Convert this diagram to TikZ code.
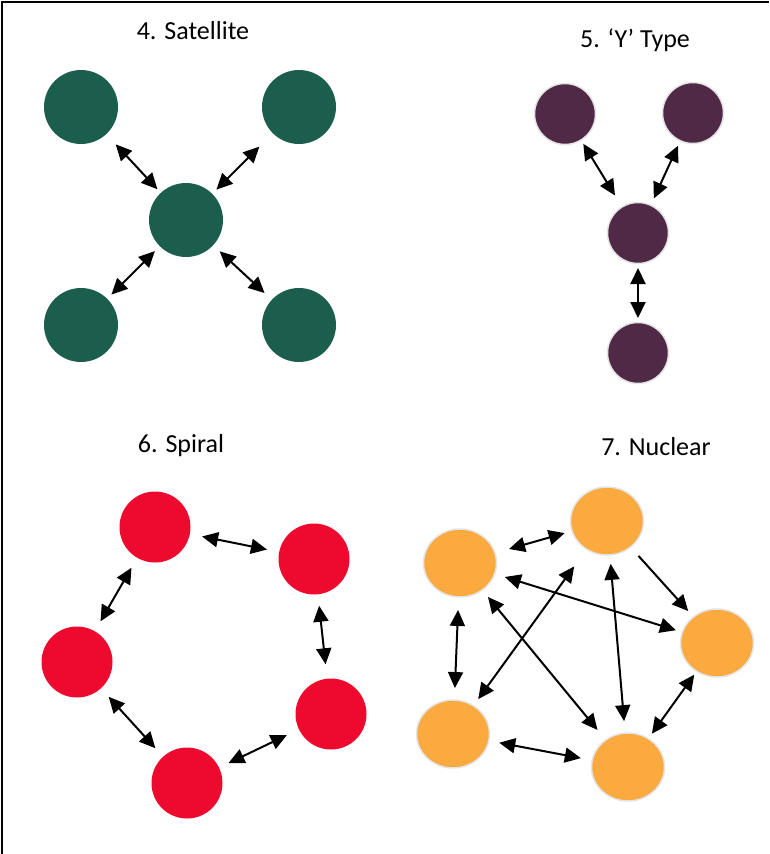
\documentclass[tikz,border=0pt]{standalone}
\usepackage{fontspec}
\setmainfont{Carlito}
\usetikzlibrary{arrows.meta,shapes.geometric}
\definecolor{satgreen}{RGB}{28,94,77}
\definecolor{ypurple}{RGB}{80,41,70}
\definecolor{spred}{RGB}{238,10,46}
\definecolor{nucorange}{RGB}{251,170,64}
\definecolor{rimgray}{RGB}{228,228,228}
\begin{document}
\begin{tikzpicture}[x=1pt,y=-1pt,
  title/.style={anchor=base,font=\fontsize{26}{30}\selectfont,inner sep=0pt},
  satnode/.style={circle,fill=satgreen,minimum size=74pt,inner sep=0pt},
  ynode/.style={circle,fill=ypurple,draw=rimgray,line width=1.5pt,minimum size=61pt,inner sep=0pt},
  spnode/.style={circle,fill=spred,minimum size=71pt,inner sep=0pt},
  nucnode/.style={ellipse,fill=nucorange,draw=rimgray,line width=1.5pt,minimum width=73pt,minimum height=68pt,inner sep=0pt},
  tip/.tip={Triangle[length=16pt,width=15pt]},
  both/.style={line width=2pt,tip-tip},
  one/.style={line width=2pt,-tip},
  sh/.style 2 args={shorten <=#1pt,shorten >=#2pt}]
\useasboundingbox (0,0) rectangle (769,854);
\draw[line width=2pt] (2,854) -- (2,2) -- (769,2);

% titles
\node[title] (t4) at (193,39) {4. Satellite};
\node[title] (t5) at (635,47) {5. ‘Y’ Type};
\node[title] (t6) at (181,452) {6. Spiral};
\node[title] (t7) at (656,455) {7. Nuclear};

% Satellite
\node[satnode] (sTL) at (81,107) {};
\node[satnode] (sTR) at (299,107) {};
\node[satnode] (sC) at (186,220) {};
\node[satnode] (sBL) at (81,325) {};
\node[satnode] (sBR) at (299,325) {};
\draw[both,sh={51}{42}] (sTL.center) -- (sC.center);
\draw[both,sh={56}{43}] (sTR.center) -- (sC.center);
\draw[both,sh={43}{44}] (sBL.center) -- (sC.center);
\draw[both,sh={46}{47}] (sC.center) -- (sBR.center);

% Y type
\node[ynode] (yTL) at (565,114) {};
\node[ynode] (yTR) at (693,113) {};
\node[ynode] (yC) at (638,233) {};
\node[ynode] (yB) at (638,353) {};
\draw[both,sh={35}{44}] (yTL.center) -- (yC.center);
\draw[both,sh={36}{38}] (yTR.center) -- (yC.center);
\draw[both,sh={35}{35}] (yC.center) -- (yB.center);

% Spiral
\node[spnode] (pTL) at (155,527) {};
\node[spnode] (pTR) at (314,559) {};
\node[spnode] (pL) at (77,662) {};
\node[spnode] (pR) at (331,714) {};
\node[spnode] (pB) at (187,783) {};
\draw[both,sh={48}{48}] (pTL.center) -- (pTR.center);
\draw[both,sh={47}{47}] (pTL.center) -- (pL.center);
\draw[both,sh={47}{50}] (pTR.center) -- (pR.center);
\draw[both,sh={47}{47}] (pL.center) -- (pB.center);
\draw[both,sh={46}{49}] (pB.center) -- (pR.center);

% Nuclear
\node[nucnode] (nT) at (607,521) {};
\node[nucnode] (nL) at (460,563) {};
\node[nucnode] (nR) at (717,643) {};
\node[nucnode] (nBL) at (453,734) {};
\node[nucnode] (nBR) at (628,767) {};
\draw[both,sh={51}{44}] (nL.center) -- (nT.center);
\draw[both,sh={47}{43}] (nL.center) -- (nR.center);
\draw[both,sh={44}{48}] (nL.center) -- (nBR.center);
\draw[both,sh={56}{43}] (nT.center) -- (nBL.center);
\draw[both,sh={43}{46}] (nT.center) -- (nBR.center);
\draw[one,sh={47}{43}] (nT.center) -- (nR.center);
\draw[both,sh={47}{46}] (nL.center) -- (nBL.center);
\draw[both,sh={47}{48}] (nBL.center) -- (nBR.center);
\draw[both,sh={41}{39}] (nBR.center) -- (nR.center);
\end{tikzpicture}
\end{document}
